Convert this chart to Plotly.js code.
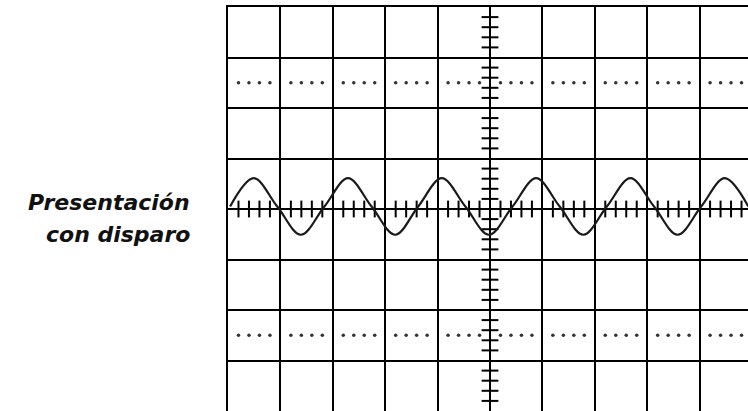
<!DOCTYPE html>
<html>
<head>
<meta charset="utf-8">
<script src="https://cdn.plot.ly/plotly-3.0.1.min.js"></script>
<style>html,body{margin:0;padding:0;background:#fff;}#chart{width:748px;height:411px;}</style>
</head>
<body>
<div id="chart"></div>
<script>
// Trace (x, y in screen divisions; 0,0 = graticule centre)
const waveX = [0.04, 0.49, 0.94, 1.39, 1.84, 2.29, 2.74, 3.19, 3.63, 4.08, 4.53, 4.98, 5.43, 5.88, 6.33, 6.78, 7.23, 7.68, 8.13, 8.58, 9.03, 9.48, 9.93];
const waveY = [0.05, 0.61, 0.05, -0.51, 0.05, 0.61, 0.05, -0.51, 0.05, 0.61, 0.05, -0.51, 0.05, 0.61, 0.05, -0.51, 0.05, 0.61, 0.05, -0.51, 0.05, 0.61, 0.05];
const labelLines = ["Presentación", "con disparo"];
const xDivs = 10, yDivs = 8, subDivs = 5;
const dottedRows = [2.5, -2.5];

// graticule subdivision marks
const hTickX = [], hTickY = [], vTickX = [], vTickY = [];
for (let i = 0; i < xDivs * subDivs; i++) {
  if (i % subDivs === 0) continue;
  hTickX.push(i / subDivs); hTickY.push(0);
}
for (let i = 0; i <= yDivs * subDivs; i++) {
  if (i % subDivs === 0) continue;
  vTickX.push(5); vTickY.push(i / subDivs - 4);
}
const dotX = [], dotY = [];
dottedRows.forEach(r => {
  for (let i = 0; i < xDivs * subDivs; i++) {
    if (i % subDivs === 0) continue;
    dotX.push(i / subDivs); dotY.push(r);
  }
});

const traces = [
  {x: dotX, y: dotY, mode: 'markers', type: 'scatter', hoverinfo: 'skip',
   marker: {symbol: 'circle', size: 3.5, color: '#333'}},
  {x: hTickX, y: hTickY, mode: 'markers', type: 'scatter', hoverinfo: 'skip',
   marker: {symbol: 'line-ns', size: 12, line: {color: '#000', width: 2}}},
  {x: vTickX, y: vTickY, mode: 'markers', type: 'scatter', hoverinfo: 'skip',
   marker: {symbol: 'line-ew', size: 12, line: {color: '#000', width: 2}}},
  {x: waveX, y: waveY, mode: 'lines', type: 'scatter', hoverinfo: 'skip',
   line: {shape: 'spline', smoothing: 1, color: '#1a1a1a', width: 2.2}}
];

const layout = {
  width: 748, height: 411,
  margin: {l: 228, r: 0, t: 7, b: 0, pad: 0},
  paper_bgcolor: '#fff', plot_bgcolor: '#fff',
  showlegend: false,
  xaxis: {range: [0, 520 / 52.4], dtick: 1, tick0: 0, showgrid: true, gridcolor: '#000', gridwidth: 2,
          zeroline: false, showticklabels: false, ticks: '', showline: true, mirror: true, linecolor: '#000', linewidth: 2, fixedrange: true},
  yaxis: {range: [-4, 4], dtick: 1, tick0: 0, showgrid: true, gridcolor: '#000', gridwidth: 2,
          zeroline: false, showticklabels: false, ticks: '', showline: true, linecolor: '#000', linewidth: 2, fixedrange: true},
  annotations: [
    {text: '<b><i>' + labelLines[0] + '</i></b>', xref: 'paper', yref: 'y', x: -0.069, y: 0.12, xanchor: 'right', yanchor: 'middle',
     showarrow: false, font: {family: 'DejaVu Sans', size: 22, color: '#111'}},
    {text: '<b><i>' + labelLines[1] + '</i></b>', xref: 'paper', yref: 'y', x: -0.069, y: -0.5, xanchor: 'right', yanchor: 'middle',
     showarrow: false, font: {family: 'DejaVu Sans', size: 22, color: '#111'}}
  ]
};
Plotly.newPlot('chart', traces, layout, {staticPlot: true, displayModeBar: false});
</script>
</body>
</html>
